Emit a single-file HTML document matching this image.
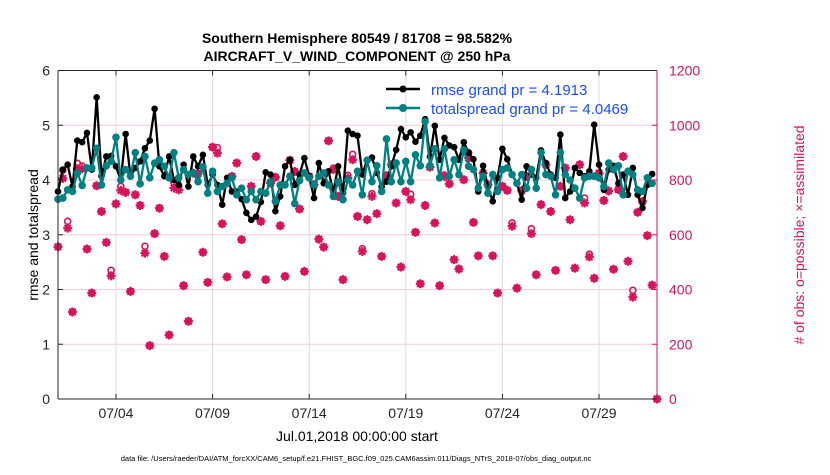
<!DOCTYPE html>
<html><head><meta charset="utf-8"><style>
body{margin:0;background:#fff;}
svg text{font-family:"Liberation Sans",Arial,sans-serif;}
</style></head><body>
<svg id="chart" width="830" height="470" xmlns="http://www.w3.org/2000/svg">
<rect x="0" y="0" width="830" height="470" fill="#fff"/>
<g id="grid"></g>
<g id="marks"></g>
<g id="axes"></g>
<text x="357" y="43" text-anchor="middle" font-size="14" font-weight="bold">Southern Hemisphere 80549 / 81708 = 98.582%</text>
<text x="357" y="61" text-anchor="middle" font-size="14" font-weight="bold">AIRCRAFT_V_WIND_COMPONENT @ 250 hPa</text>
<text transform="translate(38,235) rotate(-90)" text-anchor="middle" font-size="14">rmse and totalspread</text>
<text transform="translate(804,235) rotate(-90)" text-anchor="middle" font-size="14" fill="#d6135c"># of obs: o=possible; ×=assimilated</text>
<text x="357" y="441" text-anchor="middle" font-size="14">Jul.01,2018 00:00:00 start</text>
<text x="356" y="461" text-anchor="middle" font-size="7.5">data file: /Users/raeder/DAI/ATM_forcXX/CAM6_setup/f.e21.FHIST_BGC.f09_025.CAM6assim.011/Diags_NTrS_2018-07/obs_diag_output.nc</text>
<g>
<line x1="386" y1="89" x2="420" y2="89" stroke="#000" stroke-width="2.5"/>
<circle cx="403" cy="89" r="3.5" fill="#000"/>
<text x="431" y="95" font-size="15" fill="#1a4cff">rmse grand pr = 4.1913</text>
<line x1="386" y1="108" x2="420" y2="108" stroke="#008080" stroke-width="2.5"/>
<circle cx="403" cy="108" r="4" fill="#008080"/>
<text x="431" y="114" font-size="15" fill="#1a4cff">totalspread grand pr = 4.0469</text>
</g>
</svg>
<script>
const rmse=[3.79,4.19,4.28,3.88,4.72,4.69,4.86,4.19,5.51,4.07,4.43,4.44,4.25,4.0,4.84,4.07,4.22,4.34,4.58,4.72,5.3,4.25,4.07,4.43,4.0,3.91,4.28,3.88,4.43,4.25,4.46,3.91,4.1,3.91,3.55,4.04,3.79,3.79,3.65,3.4,3.27,3.33,3.6,4.14,4.1,3.43,3.7,4.25,4.37,3.91,4.1,4.4,4.07,3.67,4.31,3.94,4.16,3.79,4.25,3.76,4.9,4.84,4.81,4.1,4.37,4.41,4.13,3.88,3.97,4.25,4.55,4.93,4.78,4.87,4.7,4.81,5.11,4.43,4.99,4.37,4.77,4.63,4.6,4.37,4.69,4.5,4.38,3.79,4.26,3.88,3.61,4.04,4.57,4.38,4.1,3.94,3.64,4.25,4.1,4.04,4.54,4.31,4.1,4.04,4.83,3.67,3.79,4.22,4.13,4.07,4.16,5.01,4.28,3.82,4.19,4.26,3.94,4.1,3.73,4.22,3.73,3.49,3.91,4.11];
const spread=[3.65,3.67,3.82,3.79,4.13,3.9,4.22,4.22,4.58,3.91,4.26,4.34,4.78,4.0,4.19,4.07,4.5,3.93,4.43,4.04,4.31,4.37,4.25,4.04,4.5,4.04,4.19,4.1,4.13,3.97,4.24,3.76,4.16,3.79,3.88,3.94,4.04,3.73,3.85,3.64,3.79,3.64,3.79,3.76,3.97,3.61,3.91,3.91,4.07,3.57,3.99,4.13,4.04,3.91,4.07,4.13,3.91,3.7,3.97,3.64,4.0,3.91,4.16,3.73,4.36,3.97,4.26,3.79,4.75,3.97,4.31,3.97,4.34,3.97,4.46,4.26,5.07,4.26,4.57,4.04,4.57,4.07,4.37,4.1,4.55,4.25,4.19,3.85,4.07,3.76,4.1,3.79,4.19,4.22,4.1,3.94,4.1,3.85,4.19,3.85,4.5,4.1,4.07,3.73,4.5,4.1,4.0,3.85,3.67,4.04,4.07,4.07,4.04,3.88,4.31,4.19,4.26,3.73,4.16,4.1,3.82,3.79,4.04,3.94];
const nUsed=[556,806,624,318,841,841,548,387,779,685,572,450,713,762,755,393,746,707,533,195,604,697,521,234,771,764,414,284,825,823,536,426,920,898,640,446,813,862,582,454,777,886,649,436,789,810,633,448,872,831,694,466,813,783,584,555,943,838,740,436,807,874,667,539,655,740,677,521,813,856,716,482,758,728,609,421,707,847,643,414,813,786,509,475,801,880,645,523,825,783,523,387,777,762,631,405,762,813,604,454,710,856,685,470,777,844,655,478,856,716,519,441,825,725,760,474,765,886,503,372,682,722,597,416,0];
const possibleExtra=[0,30,25,0,20,10,0,0,0,0,0,20,0,15,0,0,0,0,25,0,0,0,0,0,20,15,0,0,0,0,0,0,0,20,0,0,0,0,0,0,0,0,0,0,0,0,0,0,0,0,0,0,0,0,0,0,0,5,0,0,10,20,0,10,0,10,0,0,5,0,0,0,0,20,0,0,0,0,0,0,5,0,0,0,0,20,0,0,0,0,0,0,0,0,12,0,0,0,18,0,0,0,0,0,0,0,0,0,0,18,10,0,0,0,0,0,0,0,0,25,0,0,0,0,0];
const xTickDays=[3,8,13,18,23,28];
const xTickLabels=["07/04","07/09","07/14","07/19","07/24","07/29"];
const yLeftTicks=[0,1,2,3,4,5,6];
const yRightTicks=[0,200,400,600,800,1000,1200];

const NS="http://www.w3.org/2000/svg";
const X0=58,X1=657,Y0=399,Y1=70.5;
const stepsPerDay=4,nSteps=124;
function xStep(i){return X0+i*(X1-X0)/nSteps;}
function xDay(d){return xStep(d*stepsPerDay);}
function yL(v){return Y0-v*(Y0-Y1)/6;}
function yR(v){return Y0-v*(Y0-Y1)/1200;}
function mk(tag,attrs,parent){const e=document.createElementNS(NS,tag);for(const k in attrs)e.setAttribute(k,attrs[k]);parent.appendChild(e);return e;}
const grid=document.getElementById('grid'),marks=document.getElementById('marks'),axes=document.getElementById('axes');
const PINK="#d6135c";

xTickDays.forEach((d,k)=>{
  const x=xDay(d);
  const g=mk('line',{x1:x,y1:Y1,x2:x,y2:Y0,stroke:'#dcdcdc','stroke-width':1},grid);
  
  
  const t=mk('line',{x1:x,y1:Y0,x2:x,y2:Y0-5,stroke:'#262626','stroke-width':1},axes);
  
  
  const tt=mk('line',{x1:x,y1:Y1,x2:x,y2:Y1+5,stroke:'#262626','stroke-width':1},axes);
  
  
  const l=mk('text',{x:x,y:Y0+19,'text-anchor':'middle','font-size':14,fill:'#262626'},axes);
  l.textContent=xTickLabels[k];
  
  
});
yRightTicks.forEach(v=>{
  const y=yR(v);
  if(v>0&&v<1200){
    const g=mk('line',{x1:X0,y1:y,x2:X1,y2:y,stroke:'#f6cadb','stroke-width':1},grid);
    
    
  }
  const t=mk('line',{x1:X1,y1:y,x2:X1-5,y2:y,stroke:PINK,'stroke-width':1},axes);
  
  
  const l=mk('text',{x:X1+12,y:y+5,'font-size':14,fill:PINK},axes);
  l.textContent=v;
  
  
});
yLeftTicks.forEach(v=>{
  const y=yL(v);
  const t=mk('line',{x1:X0,y1:y,x2:X0+5,y2:y,stroke:'#262626','stroke-width':1},axes);
  
  
  const l=mk('text',{x:X0-8,y:y+5,'text-anchor':'end','font-size':14,fill:'#262626'},axes);
  l.textContent=v;
  
  
});
const fr1=mk('line',{x1:X0,y1:Y1,x2:X0,y2:Y0,stroke:'#262626','stroke-width':1},axes);


const fr2=mk('line',{x1:X0,y1:Y0,x2:X1,y2:Y0,stroke:'#262626','stroke-width':1},axes);


const fr3=mk('line',{x1:X0,y1:Y1,x2:X1,y2:Y1,stroke:'#262626','stroke-width':1},axes);


const fr4=mk('line',{x1:X1,y1:Y1,x2:X1,y2:Y0,stroke:PINK,'stroke-width':1},axes);



// obs counts
nUsed.forEach((v,i)=>{
  const x=xStep(i),y=yR(v),yp=yR(v+possibleExtra[i]);
  const c=mk('circle',{cx:x,cy:yp,r:3,fill:'none',stroke:PINK,'stroke-width':1.6},marks);
  
  
  const s=mk('path',{d:`M${x-4.5},${y}H${x+4.5}M${x},${y-4.5}V${y+4.5}M${x-3.2},${y-3.2}L${x+3.2},${y+3.2}M${x-3.2},${y+3.2}L${x+3.2},${y-3.2}`,stroke:PINK,'stroke-width':2.2,fill:'none'},marks);
  
  
});
function series(arr,color,r,name){
  const d=arr.map((v,i)=>(i?'L':'M')+xStep(i)+','+yL(v)).join('');
  const p=mk('path',{d:d,stroke:color,'stroke-width':2.3,fill:'none','stroke-linejoin':'round'},marks);
  
  
  arr.forEach((v,i)=>{
    const c=mk('circle',{cx:xStep(i),cy:yL(v),r:r,fill:color},marks);
    
    
  });
}
series(rmse,'#000',3.3,'rmse');
series(spread,'#008080',3.8,'totalspread');
</script>
</body></html>
